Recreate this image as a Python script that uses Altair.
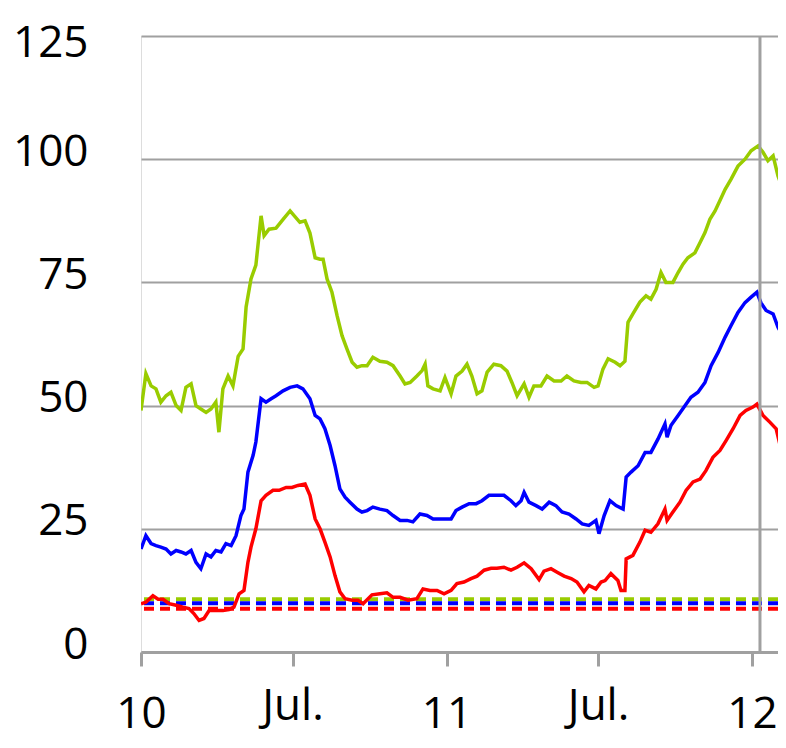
import altair as alt
import pandas as pd

# decimal year positions and values
green_t = [2010.000, 2010.016, 2010.033, 2010.049, 2010.065, 2010.082, 2010.098, 2010.115, 2010.131, 2010.147,
           2010.164, 2010.180, 2010.196, 2010.213, 2010.229, 2010.245, 2010.255, 2010.268, 2010.285, 2010.301,
           2010.318, 2010.334, 2010.344, 2010.360, 2010.376, 2010.393, 2010.403, 2010.419, 2010.442, 2010.465,
           2010.488, 2010.520, 2010.537, 2010.553, 2010.570, 2010.586, 2010.596, 2010.609, 2010.625, 2010.642,
           2010.658, 2010.674, 2010.691, 2010.707, 2010.723, 2010.740, 2010.759, 2010.782, 2010.805, 2010.825,
           2010.848, 2010.864, 2010.881, 2010.903, 2010.920, 2010.930, 2010.939, 2010.956, 2010.979, 2010.995,
           2011.015, 2011.031, 2011.051, 2011.067, 2011.083, 2011.100, 2011.116, 2011.133, 2011.155, 2011.178,
           2011.198, 2011.214, 2011.231, 2011.254, 2011.270, 2011.286, 2011.309, 2011.329, 2011.352, 2011.375,
           2011.394, 2011.417, 2011.440, 2011.460, 2011.483, 2011.496, 2011.512, 2011.529, 2011.552, 2011.568,
           2011.584, 2011.594, 2011.610, 2011.633, 2011.653, 2011.669, 2011.686, 2011.702, 2011.718, 2011.741,
           2011.758, 2011.774, 2011.790, 2011.813, 2011.830, 2011.846, 2011.862, 2011.879, 2011.895, 2011.912,
           2011.931, 2011.954, 2011.977, 2011.997, 2012.020, 2012.036, 2012.052, 2012.069, 2012.085, 2012.101,
           2012.111]
green_v = [49, 56.5, 54, 53.4, 50.7, 52, 52.7, 50, 49, 53.7,
           54.4, 50, 49.3, 48.6, 49.3, 50.7, 44.6, 53.4, 56, 54,
           60, 61.5, 70, 75.7, 78.5, 88.5, 84.5, 85.8, 86, 87.8,
           89.5, 87.2, 87.5, 85, 80, 79.7, 79.7, 75.7, 73, 68.2,
           64.2, 61.5, 58.8, 57.8, 58.1, 58.1, 59.8, 59, 58.8, 58.1,
           56, 54.4, 54.7, 56, 57.1, 58.4, 54, 53.4, 53, 55.7,
           52.4, 56, 57, 58.4, 56, 52.4, 53, 56.8, 58.4, 58.1,
           57, 54.7, 52, 54.4, 51.7, 54, 54, 56, 55, 55,
           56, 55, 54.7, 54.7, 53.7, 54, 57.4, 59.5, 58.8, 58.1,
           59, 66.9, 68.6, 71, 72.3, 71.6, 73.6, 77, 75, 75,
           77, 78.7, 80, 81, 83.1, 85.1, 87.8, 89.5, 91.6, 93.9,
           95.9, 98.6, 100, 101.7, 102.7, 101.4, 99.7, 100.7, 96.6, 93.9,
           92.6]

blue_t = [2010.000, 2010.016, 2010.033, 2010.049, 2010.065, 2010.082, 2010.098, 2010.115, 2010.131, 2010.147,
          2010.164, 2010.180, 2010.196, 2010.213, 2010.229, 2010.245, 2010.262, 2010.278, 2010.295, 2010.311,
          2010.327, 2010.337, 2010.350, 2010.367, 2010.376, 2010.393, 2010.409, 2010.426, 2010.442, 2010.465,
          2010.488, 2010.511, 2010.530, 2010.553, 2010.570, 2010.586, 2010.602, 2010.619, 2010.635, 2010.651,
          2010.668, 2010.684, 2010.707, 2010.723, 2010.740, 2010.759, 2010.782, 2010.805, 2010.825, 2010.848,
          2010.871, 2010.890, 2010.913, 2010.936, 2010.956, 2010.979, 2011.002, 2011.015, 2011.031, 2011.051,
          2011.074, 2011.097, 2011.116, 2011.139, 2011.162, 2011.188, 2011.211, 2011.227, 2011.244, 2011.254,
          2011.270, 2011.293, 2011.313, 2011.336, 2011.358, 2011.378, 2011.401, 2011.424, 2011.444, 2011.466,
          2011.489, 2011.499, 2011.516, 2011.535, 2011.555, 2011.578, 2011.588, 2011.604, 2011.627, 2011.650,
          2011.669, 2011.692, 2011.715, 2011.722, 2011.735, 2011.758, 2011.781, 2011.800, 2011.823, 2011.846,
          2011.866, 2011.889, 2011.912, 2011.931, 2011.954, 2011.977, 2011.997, 2012.016, 2012.029, 2012.046,
          2012.069, 2012.085, 2012.101, 2012.111]
blue_v = [20.9, 23.6, 22, 21.6, 21.3, 20.9, 19.9, 20.6, 20.3, 19.9,
          20.6, 18.2, 16.9, 19.9, 19.3, 20.6, 20.3, 22, 21.6, 23.6,
          27.7, 29, 36.5, 39.9, 42.6, 51.4, 50.7, 51.4, 52, 53,
          53.7, 54, 53.4, 51.4, 48, 47.3, 45.3, 41.9, 37.8, 33.1,
          31.4, 30.4, 29, 28.4, 28.7, 29.4, 29, 28.7, 27.7, 26.7,
          26.7, 26.4, 28, 27.7, 27, 27, 27, 27, 28.7, 29.4,
          30.1, 30.1, 30.7, 31.8, 31.8, 31.8, 30.7, 29.7, 30.7, 32.4,
          30.4, 29.7, 29, 30.4, 29.7, 28.4, 28, 27, 26, 25.7,
          26.7, 24, 27.7, 30.7, 29.7, 29, 35.5, 36.5, 37.8, 40.5,
          40.5, 43.2, 46.3, 43.6, 46, 48, 50, 51.7, 52.7, 54.7,
          58.1, 60.8, 63.9, 66.2, 68.9, 70.9, 72, 73, 70.9, 69.3,
          68.6, 65.9, 64.2, 62.8]

red_t = [2010.000, 2010.016, 2010.039, 2010.056, 2010.072, 2010.092, 2010.115, 2010.137, 2010.157, 2010.173,
         2010.190, 2010.206, 2010.223, 2010.245, 2010.268, 2010.288, 2010.304, 2010.321, 2010.337, 2010.350,
         2010.360, 2010.376, 2010.393, 2010.409, 2010.432, 2010.452, 2010.475, 2010.494, 2010.514, 2010.537,
         2010.553, 2010.570, 2010.586, 2010.602, 2010.619, 2010.635, 2010.651, 2010.668, 2010.691, 2010.710,
         2010.727, 2010.756, 2010.782, 2010.805, 2010.825, 2010.848, 2010.874, 2010.903, 2010.923, 2010.946,
         2010.969, 2010.992, 2011.015, 2011.034, 2011.057, 2011.080, 2011.100, 2011.123, 2011.146, 2011.165,
         2011.188, 2011.211, 2011.231, 2011.254, 2011.277, 2011.303, 2011.319, 2011.342, 2011.362, 2011.385,
         2011.408, 2011.427, 2011.450, 2011.466, 2011.489, 2011.506, 2011.519, 2011.538, 2011.561, 2011.571,
         2011.584, 2011.588, 2011.610, 2011.633, 2011.650, 2011.669, 2011.692, 2011.715, 2011.722, 2011.741,
         2011.764, 2011.784, 2011.807, 2011.830, 2011.849, 2011.872, 2011.895, 2011.915, 2011.938, 2011.961,
         2011.980, 2012.003, 2012.016, 2012.036, 2012.059, 2012.079, 2012.092, 2012.108]
red_v = [9.8, 10.1, 11.4, 10.7, 10.7, 9.8, 9.5, 9.1, 8.8, 7.8,
         6.4, 6.8, 8.4, 8.4, 8.4, 8.6, 9.1, 11.8, 12.5, 18.2,
         21.3, 25, 30.7, 31.8, 32.8, 32.8, 33.4, 33.4, 33.8, 34.1,
         31.8, 27, 25, 22.3, 19.3, 15.5, 12.2, 10.8, 10.5, 10.5,
         9.8, 11.6, 11.8, 12, 11.1, 11.1, 10.5, 10.8, 12.8, 12.5,
         12.5, 11.8, 12.5, 13.9, 14.2, 14.9, 15.4, 16.6, 17, 17,
         17.2, 16.6, 17.2, 18.1, 16.9, 14.7, 16.4, 16.9, 16.2, 15.4,
         14.9, 14.2, 12.2, 13.5, 12.8, 14.2, 14.5, 15.9, 14.5, 12.5,
         12.5, 18.9, 19.6, 22.3, 24.7, 24.3, 26, 29, 26.7, 28.4,
         30.4, 32.8, 34.5, 35.1, 36.8, 39.5, 40.9, 42.9, 45.3, 48,
         49, 49.7, 50.3, 48, 46.6, 45.3, 41.9, 37.8]

series_names = ["green", "blue", "red"]
series_colors = ["#99cc00", "#0000ff", "#ff0000"]
reference_levels = [10.7, 9.9, 8.8]   # dashed horizontal lines
marker_year = 2012.026                # vertical gray line

tick_values = [2010, 2010.496, 2011, 2011.496, 2012]
tick_labels = ["10", "Jul.", "11", "Jul.", "12"]
y_ticks = [0, 25, 50, 75, 100, 125]

x_domain = [2010, 2012.085]
y_domain = [0, 125]

rows = []
for name, ts, vs in [("green", green_t, green_v), ("blue", blue_t, blue_v), ("red", red_t, red_v)]:
    for t, v in zip(ts, vs):
        rows.append({"t": t, "v": v, "s": name})
df = pd.DataFrame(rows)
ref_df = pd.DataFrame({"s": series_names, "level": reference_levels})
marker_df = pd.DataFrame({"t": [marker_year]})

label_expr = "''"
for tv, tl in reversed(list(zip(tick_values, tick_labels))):
    label_expr = f"abs(datum.value - {tv}) < 0.01 ? '{tl}' : ({label_expr})"

FONT = "Open Sans"
GRAY = "#a0a0a0"

xscale = alt.Scale(domain=x_domain, nice=False, zero=False)
yscale = alt.Scale(domain=y_domain, nice=False, zero=True)
cscale = alt.Scale(domain=series_names, range=series_colors)

x_axis = alt.Axis(values=tick_values, labelExpr=label_expr, title=None, grid=False,
                  domainColor=GRAY, domainWidth=3, tickColor=GRAY, tickWidth=3, tickSize=14,
                  labelFont=FONT, labelFontSize=44, labelColor="black",
                  labelPadding={"condition": {"test": "abs(datum.value % 1) < 0.01", "value": 26},
                                "value": 18},
                  labelFlush=False, labelOverlap=False)
y_axis = alt.Axis(values=y_ticks, title=None, grid=True, gridColor=GRAY, gridWidth=2,
                  domain=False, ticks=False, labelFont=FONT, labelFontSize=44,
                  labelColor="black", labelPadding=53,
                  labelOffset={"condition": {"test": "datum.value >= 125", "value": 7},
                               "value": -7})

base = alt.Chart(df)

lines = base.mark_line(strokeWidth=3.5, clip=True).encode(
    x=alt.X("t:Q", scale=xscale, axis=x_axis),
    y=alt.Y("v:Q", scale=yscale, axis=y_axis),
    color=alt.Color("s:N", scale=cscale, legend=None),
    order=alt.Order("t:Q"),
)

dashes = alt.Chart(ref_df).mark_rule(strokeWidth=4, strokeDash=[10, 6]).encode(
    y=alt.Y("level:Q", scale=yscale),
    color=alt.Color("s:N", scale=cscale, legend=None),
)

marker = alt.Chart(marker_df).mark_rule(strokeWidth=3, color=GRAY).encode(
    x=alt.X("t:Q", scale=xscale),
)

chart = alt.layer(dashes, lines, marker).properties(
    width=637, height=616,
    autosize=alt.AutoSizeParams(type="none"),
    padding={"left": 133, "top": 28, "right": 0, "bottom": 88},
).configure_view(stroke=None).configure(background="white")

chart.save("out.html", embed_options={"renderer": "svg", "actions": False})
